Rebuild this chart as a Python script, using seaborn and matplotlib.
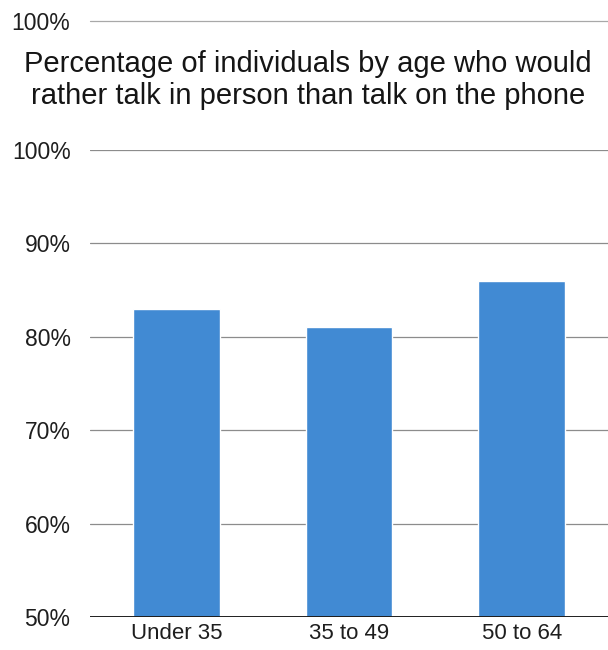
import matplotlib
matplotlib.use("Agg")
import matplotlib.pyplot as plt
from matplotlib.lines import Line2D
import seaborn as sns
import pandas as pd

# Share of people who would rather talk in person than on the phone
age_groups = ["Under 35", "35 to 49", "50 to 64"]
prefer_in_person = [83, 81, 86]
y_ticks = [50, 60, 70, 80, 90, 100]
y_tick_labels = ["50%", "60%", "70%", "80%", "90%", "100%"]

title = "Percentage of individuals by age who would\nrather talk in person than talk on the phone"

sns.set_theme(style="white")
plt.rcParams["font.family"] = ["Liberation Sans", "DejaVu Sans"]

df = pd.DataFrame({"age": age_groups, "pct": prefer_in_person})

W, H = 608, 650
fig = plt.figure(figsize=(W / 100, H / 100), dpi=100)
ax_left, ax_bottom, ax_top = 90, 617, 150
ax = fig.add_axes([ax_left / W, 1 - ax_bottom / H, 1 - ax_left / W,
                   (ax_bottom - ax_top) / H])

sns.barplot(data=df, x="age", y="pct", color="#418ad3", width=0.5,
            saturation=1, ax=ax, zorder=3)

ax.set_ylim(50, 100)
ax.set_xlim(-0.5, 2.5)
ax.set_yticks(y_ticks)
ax.set_yticklabels(y_tick_labels)
ax.set_xlabel("")
ax.set_ylabel("")

for v in y_ticks[1:]:
    ax.axhline(v, color="#8c8c8c", lw=0.9, zorder=1)
ax.axhline(50, color="#1e1e1e", lw=1.4, zorder=4)

for s in ax.spines.values():
    s.set_visible(False)
ax.tick_params(axis="y", length=0, pad=14, labelsize=16.5, labelcolor="#1e1e1e")
ax.tick_params(axis="x", length=0, pad=4, labelsize=16, labelcolor="#1e1e1e")

# Title above the plot area
fig.text(308 / W, 1 - 80 / H, title, ha="center", va="center",
         fontsize=21, color="#151515", linespacing=1.22)

# Upper reference line with its label
fig.text(70 / W, 1 - 23 / H, "100%", ha="right", va="center",
         fontsize=16.5, color="#1e1e1e")
fig.add_artist(Line2D([90 / W, 1.0], [1 - 21 / H, 1 - 21 / H],
                      transform=fig.transFigure, color="#a8a8a8", lw=0.9))

fig.savefig("out.png", dpi=100)
